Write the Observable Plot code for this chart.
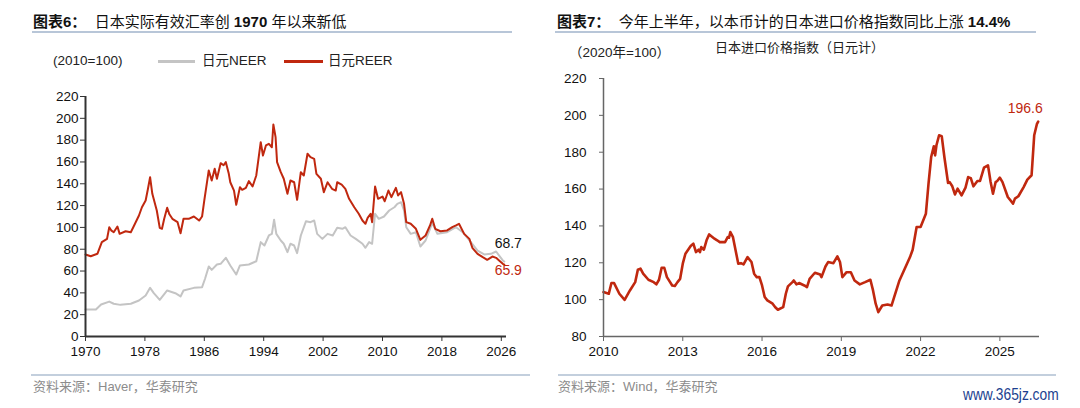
<!DOCTYPE html>
<html>
<head>
<meta charset="utf-8">
<script src="https://cdn.jsdelivr.net/npm/d3@7"></script>
<script src="https://cdn.jsdelivr.net/npm/@observablehq/plot@0.6"></script>
<style>
  html, body { margin: 0; padding: 0; background: #fff; }
  #wrap { position: relative; width: 1080px; height: 408px; overflow: hidden; background: #fff;
          font-family: "Liberation Sans", Arial, "Noto Sans CJK SC", sans-serif; color: #111; }
  .abs { position: absolute; white-space: nowrap; }
  .title { font-size: 15px; line-height: 20px; color: #111; }
  .title b { font-weight: bold; }
  .cjk { font-family: "Liberation Sans", "Noto Sans CJK SC", sans-serif; }
  .uline { position: absolute; height: 2px; background: #b8c6d8; }
  .sep { position: absolute; height: 1.5px; background: #c3cfdd; }
  .src { font-size: 13px; line-height: 16px; color: #8c8c8c; }
  .leg { font-size: 13.5px; line-height: 16px; color: #222; }
  .sw { position: absolute; height: 2.5px; }
</style>
</head>
<body>
<div id="wrap">
  <div class="abs title cjk" style="left:33px; top:12px;"><b>图表6：</b>&nbsp; 日本实际有效汇率创 <b>1970</b> 年以来新低</div>
  <div class="uline" style="left:32px; top:31px; width:480px;"></div>
  <div class="abs title cjk" style="left:557px; top:12px;"><b>图表7：</b>&nbsp; 今年上半年，以本币计的日本进口价格指数同比上涨 <b>14.4%</b></div>
  <div class="uline" style="left:555px; top:31px; width:481px;"></div>

  <div class="abs leg" style="left:53px; top:53px;">(2010=100)</div>
  <div class="sw" style="left:158px; top:60px; width:37px; background:#c4c4c4;"></div>
  <div class="abs leg cjk" style="left:202px; top:53px;">日元NEER</div>
  <div class="sw" style="left:284px; top:60px; width:39px; background:#c0280f;"></div>
  <div class="abs leg cjk" style="left:328px; top:53px;">日元REER</div>

  <div class="abs leg cjk" style="left:569px; top:45px;">（2020年=100）</div>
  <div class="abs leg cjk" style="left:715px; top:40px; font-size:13px;">日本进口价格指数（日元计）</div>

  <div class="sep" style="left:31px; top:374px; width:499px;"></div>
  <div class="abs src cjk" style="left:33px; top:379px;">资料来源：Haver，华泰研究</div>
  <div class="sep" style="left:558px; top:374px; width:498px;"></div>
  <div class="abs src cjk" style="left:558px; top:379px;">资料来源：Wind，华泰研究</div>
  <div class="abs" style="left:963px; top:386px; font-family:'Liberation Sans Narrow','Liberation Sans',sans-serif; font-size:16px; color:#1c3f8f; transform:scaleX(0.86); transform-origin:left;">www.365jz.com</div>
</div>
<script>
// ---------- Figure 6 data (2010=100) ----------
const reerYear = [1970.0,1970.7,1971.6,1972.2,1972.9,1973.2,1973.5,1973.8,1974.3,1974.6,1975.4,1976.1,1976.5,1977.2,1977.6,1978.1,1978.4,1978.7,1979.0,1979.6,1980.0,1980.3,1980.6,1981.0,1981.3,1981.7,1982.4,1982.8,1983.2,1983.9,1984.6,1985.3,1985.7,1986.0,1986.6,1987.0,1987.4,1987.7,1988.2,1988.6,1988.9,1989.3,1989.5,1990.0,1990.3,1990.8,1991.1,1991.6,1992.0,1992.5,1993.0,1993.6,1993.9,1994.3,1994.7,1995.1,1995.3,1995.6,1995.8,1996.3,1996.7,1997.2,1997.6,1998.1,1998.5,1999.0,1999.4,1999.9,2000.3,2000.8,2001.1,2001.7,2002.1,2002.6,2003.2,2003.7,2003.9,2004.5,2005.0,2005.5,2006.2,2006.8,2007.3,2007.7,2008.0,2008.4,2008.6,2009.0,2009.4,2010.0,2010.3,2010.8,2011.2,2011.8,2012.1,2012.5,2012.9,2013.2,2013.8,2014.5,2015.1,2015.8,2016.4,2016.7,2017.1,2017.8,2018.7,2019.4,2019.9,2020.3,2021.0,2021.7,2022.1,2022.8,2023.5,2024.1,2024.8,2025.3,2025.7,2026.2,2026.4];
const reerValue = [75.2,73.6,75.8,86.5,89.5,100.2,97,95.6,100.8,94.1,96.5,95.6,101,110.9,118.5,124.7,135,146,130.8,115.5,99.6,98.7,108,118,112,107.9,104.8,94.7,107.9,107.9,110,106.3,110,124.7,152.2,143,153.7,144.6,158.9,157,159.8,149.1,141.4,133.8,120.7,136.9,134.5,136.3,142.4,137.5,147.6,178.1,165.9,175.1,176.6,173.5,194.3,182.7,159.8,150.6,144.6,130.8,143,141.4,125.3,150.6,147.6,167.5,164.4,162.9,149.1,144.6,132.3,141.4,135.4,133.8,141.4,139.3,135.4,126.2,118.5,112.5,106.3,103.3,108.8,112.5,104.8,137.5,126.2,128.3,124,133.8,127.7,136.3,129.3,132.3,121.6,104.8,103.3,98.7,88.6,92.6,101.8,107.9,98.7,96.5,97.2,100.2,101.8,103.3,94.1,89.5,81.3,75.8,72.7,70.3,73.3,72.1,69.7,66.6,65.9];
const neerYear = [1970.0,1971.4,1972.1,1973.2,1973.8,1974.7,1976.1,1977.2,1978.1,1978.7,1979.2,1980.0,1981.0,1982.1,1982.8,1983.2,1984.6,1985.7,1986.1,1986.6,1987.0,1987.7,1988.2,1988.9,1989.5,1990.3,1990.8,1992.0,1993.0,1993.6,1994.1,1994.7,1995.1,1995.4,1995.7,1996.3,1996.7,1997.2,1997.6,1998.1,1998.5,1999.0,1999.7,2000.3,2000.8,2001.2,2001.9,2002.6,2003.3,2003.9,2004.6,2005.0,2005.7,2006.4,2007.3,2007.7,2008.2,2008.6,2009.0,2009.5,2010.2,2010.9,2011.6,2012.0,2012.5,2012.9,2013.2,2013.8,2014.5,2015.1,2015.8,2016.7,2017.4,2018.7,2019.9,2020.8,2021.9,2022.8,2023.7,2024.6,2025.3,2026.2,2026.4];
const neerValue = [24.7,24.7,29.3,32,30,29,30,33,37.6,44.6,39.7,33.6,42.2,39.7,36.7,42.2,44.6,45.2,52.9,64.2,61.1,66,66.6,72.1,65.1,56.8,65.1,66,69,86.5,83.4,92.6,94.1,107,94.1,88,85,77.3,85,83.4,76.4,92.6,105.7,104.8,106.3,94.1,89.5,94.1,92.6,99.6,98.7,100.2,92.6,89.5,85,81.3,86.5,85,112.5,107.9,110,115.5,118.5,121.6,123.1,115.5,100.2,94.1,95.6,82.5,88,103.9,94.1,95.6,100.2,95.6,86.5,78.8,75.2,75.8,77.9,69.7,68.7];
const leftXTicks = [1970,1978,1986,1994,2002,2010,2018,2026];
const leftYTicks = [0,20,40,60,80,100,120,140,160,180,200,220];

// ---------- Figure 7 data (2020=100) ----------
const impYear = [2010.0,2010.2,2010.3,2010.4,2010.6,2010.8,2011.0,2011.2,2011.3,2011.4,2011.5,2011.7,2011.9,2012.0,2012.1,2012.2,2012.3,2012.4,2012.6,2012.7,2012.8,2012.9,2013.0,2013.1,2013.3,2013.4,2013.5,2013.6,2013.65,2013.7,2013.8,2013.9,2014.0,2014.2,2014.3,2014.4,2014.6,2014.7,2014.75,2014.8,2014.9,2015.0,2015.1,2015.2,2015.3,2015.45,2015.6,2015.7,2015.8,2015.9,2016.0,2016.1,2016.2,2016.4,2016.5,2016.6,2016.8,2016.9,2016.98,2017.15,2017.2,2017.3,2017.4,2017.6,2017.7,2017.8,2018.0,2018.2,2018.25,2018.4,2018.5,2018.7,2018.85,2018.95,2019.04,2019.2,2019.36,2019.5,2019.7,2019.9,2020.1,2020.2,2020.3,2020.4,2020.55,2020.75,2020.9,2021.0,2021.2,2021.4,2021.6,2021.7,2021.85,2022.0,2022.2,2022.3,2022.4,2022.5,2022.55,2022.6,2022.7,2022.8,2022.9,2023.04,2023.1,2023.2,2023.3,2023.4,2023.55,2023.7,2023.8,2023.9,2024.0,2024.15,2024.25,2024.4,2024.55,2024.65,2024.74,2024.84,2024.9,2025.0,2025.1,2025.3,2025.5,2025.57,2025.7,2025.9,2026.04,2026.2,2026.23,2026.3,2026.4,2026.45];
const impValue = [104.1,103.2,109,109,103.2,99.9,105,109.5,116.2,116.8,114.1,110.8,109.5,108.3,110.8,117.3,117.3,112.2,107.7,107.4,109.5,111.3,119.5,124.9,129.1,130.4,125.8,127.1,125.8,128.5,127.1,132.2,135.4,133.1,132.2,131.2,131.2,133.9,133.6,136.7,133.9,126.7,119.5,119.8,119.1,123.1,120.4,114.1,112.2,112.2,107.7,101.4,99.6,97.8,95.9,94.5,95.9,103.2,107.2,109.5,110.4,108.3,109,107.7,106.8,111.3,114.6,113.6,112.2,118,120.4,119.8,123.5,120.4,112.2,114.9,114.9,110.4,108.3,109.5,110.8,105,97.8,93.2,96.8,97.4,96.8,101.4,110.4,116.8,123.1,127.1,139.4,139.4,146.6,163,177.4,183.2,178.3,183.8,189.2,188.7,177.4,163.3,163.8,161.5,157.1,160.2,156.6,160.8,166.5,165.9,161.5,164.4,164.4,171.6,172.9,163.8,157.5,163.8,164.4,166.2,163.8,155.7,152.1,154.8,156.1,161.1,165.1,167.5,173.8,189.2,195.2,196.6];
const rightXTicks = [2010,2013,2016,2019,2022,2025];
const rightYTicks = [80,100,120,140,160,180,200,220];

const RED = "#c0280f", GRAY = "#c4c4c4";
const reer = reerYear.map((x, i) => ({x, y: reerValue[i]}));
const neer = neerYear.map((x, i) => ({x, y: neerValue[i]}));
const imp = impYear.map((x, i) => ({x, y: impValue[i]}));
const fmt = d => String(d);
const font = "'Liberation Sans', Arial, sans-serif";

const left = Plot.plot({
  width: 540, height: 290,
  marginLeft: 85, marginRight: 34, marginTop: 16, marginBottom: 34,
  x: {domain: [1970, 2026.7]},
  y: {domain: [0, 220]},
  style: {fontFamily: font, fontSize: "13.5px", color: "#111", background: "transparent", overflow: "visible"},
  marks: [
    Plot.line(neer, {x: "x", y: "y", stroke: GRAY, strokeWidth: 2, strokeLinejoin: "round"}),
    Plot.line(reer, {x: "x", y: "y", stroke: RED, strokeWidth: 2, strokeLinejoin: "round"}),
    Plot.ruleX([1970], {stroke: "#333", strokeWidth: 2}),
    Plot.ruleY([0], {stroke: "#333", strokeWidth: 2}),
    Plot.axisY({ticks: leftYTicks, tickSize: 5, tickPadding: 2, tickFormat: fmt, label: null, stroke: "#333", fill: "#111"}),
    Plot.axisX({ticks: leftXTicks, tickSize: 5, tickPadding: 5, tickFormat: fmt, label: null, stroke: "#333", fill: "#111"}),
    Plot.text(neer.slice(-1), {x: "x", y: "y", text: d => d.y.toFixed(1), fill: "#111", fontSize: 14, dx: 4, dy: -18}),
    Plot.text(reer.slice(-1), {x: "x", y: "y", text: d => d.y.toFixed(1), fill: RED, fontSize: 14, dx: 4, dy: 6})
  ]
});

const right = Plot.plot({
  width: 540, height: 310,
  marginLeft: 63, marginRight: 41, marginTop: 18, marginBottom: 34,
  x: {domain: [2010, 2026.5]},
  y: {domain: [80, 220]},
  style: {fontFamily: font, fontSize: "13.5px", color: "#111", background: "transparent", overflow: "visible"},
  marks: [
    Plot.line(imp, {x: "x", y: "y", stroke: RED, strokeWidth: 2.6, strokeLinejoin: "round"}),
    Plot.ruleX([2010], {stroke: "#666", strokeWidth: 1.5}),
    Plot.ruleY([80], {stroke: "#666", strokeWidth: 1.5}),
    Plot.axisY({ticks: rightYTicks, tickSize: 4, tickPadding: 13, tickFormat: fmt, label: null, stroke: "#666", fill: "#111"}),
    Plot.axisX({ticks: rightXTicks, tickSize: 5, tickPadding: 5, tickFormat: fmt, label: null, stroke: "#666", fill: "#111"}),
    Plot.text(imp.slice(-1), {x: "x", y: "y", text: d => d.y.toFixed(1), fill: RED, fontSize: 14, dx: -13, dy: -13})
  ]
});

for (const [svg, l, t] of [[left, 0, 80], [right, 540, 60]]) {
  svg.style.position = "absolute";
  svg.style.left = l + "px";
  svg.style.top = t + "px";
}
const wrap = document.getElementById("wrap");
wrap.appendChild(left);
wrap.appendChild(right);
</script>
</body>
</html>
